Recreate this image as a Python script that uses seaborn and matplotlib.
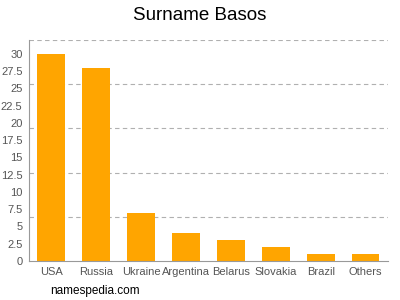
import matplotlib
matplotlib.use("Agg")
import matplotlib.pyplot as plt
import seaborn as sns
import pandas as pd
import numpy as np

countries = ["USA", "Russia", "Ukraine", "Argentina", "Belarus", "Slovakia", "Brazil", "Others"]
counts = [30, 28, 7, 4, 3, 2, 1, 1]
yticks = [0, 2.5, 5, 7.5, 10, 12.5, 15, 17.5, 20, 22.5, 25, 27.5, 30]
ytick_labels = ["0", "2.5", "5", "7.5", "10", "12.5", "15", "17.5", "20", "22.5", "25", "27.5", "30"]

sns.set_style("white")
plt.rcParams['font.family'] = ['Liberation Sans', 'DejaVu Sans']

df = pd.DataFrame({"country": countries, "count": counts})
fig = plt.figure(figsize=(4, 3), dpi=100)
ax = fig.add_axes([0.072, 0.13, 0.898, 0.737])
sns.barplot(data=df, x="country", y="count", color="#ffa500", saturation=1, width=0.62,
            edgecolor="none", ax=ax)

ax.set_ylim(0, 32)
ax.set_xlim(-0.5, len(countries) - 0.5)
ax.set_yticks(yticks)
ax.set_yticklabels(ytick_labels)
for g in np.arange(1, 6) * 32 / 5:
    ax.axhline(g, color="#b0b0b0", lw=0.8, ls=(0, (4, 3)), zorder=0)
ax.set_xlabel("")
ax.set_ylabel("")
for s in ["top", "right"]:
    ax.spines[s].set_visible(False)
for s in ["left", "bottom"]:
    ax.spines[s].set_color("#999999")
    ax.spines[s].set_linewidth(0.8)
ax.tick_params(axis="both", colors="#555555", labelsize=8, length=3, width=0.6, pad=1.5)
ax.tick_params(axis="x", color="#999999")
ax.tick_params(axis="y", color="#999999")
fig.text(0.5, 0.95, "Surname Basos", ha="center", va="center", fontsize=13.5, color="#000000")
fig.text(0.125, 0.03, "namespedia.com", ha="left", va="center", fontsize=8.5, color="#000000")
fig.savefig("out.png", dpi=100)
